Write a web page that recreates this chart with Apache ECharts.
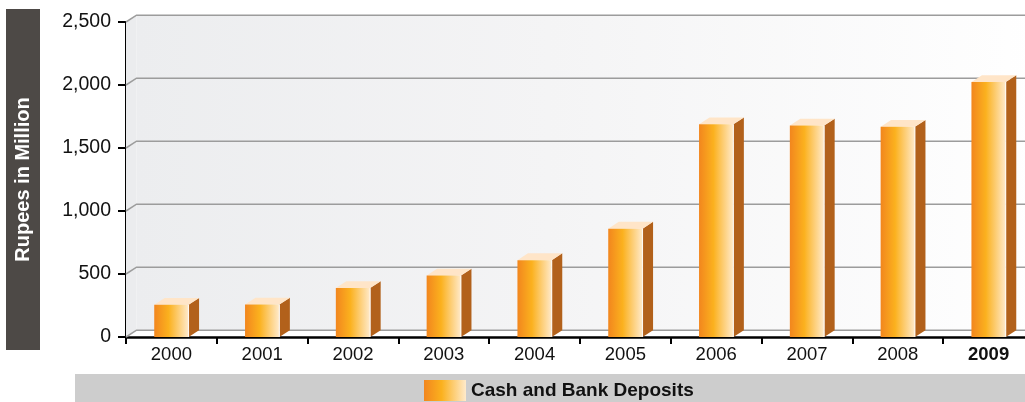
<!DOCTYPE html>
<html>
<head>
<meta charset="utf-8">
<script src="https://cdn.jsdelivr.net/npm/echarts@6/dist/echarts.min.js"></script>
<style>
  html, body { margin: 0; padding: 0; background: #ffffff; }
  #chart { width: 1025px; height: 402px; }
</style>
</head>
<body>
<div id="chart"></div>
<script>
// Cash and bank deposits per year, Rupees in Million
const years = ['2000', '2001', '2002', '2003', '2004', '2005', '2006', '2007', '2008', '2009'];
const cashDeposits = [255, 257, 388, 488, 610, 860, 1688, 1678, 1668, 2024];
const yTicks = [0, 500, 1000, 1500, 2000, 2500];
const seriesName = 'Cash and Bank Deposits';
const yTitle = 'Rupees in Million';

// depth offset of the pseudo-3D box (pixels)
const DX = 10.5;
const DY = -6.8;
const FONT = 'Liberation Sans, Arial, Helvetica, sans-serif';

const frontGradient = new echarts.graphic.LinearGradient(0, 0, 1, 0, [
  { offset: 0, color: '#F2861E' },
  { offset: 0.42, color: '#FBB11E' },
  { offset: 1, color: '#FFEACB' }
]);

const chart = echarts.init(document.getElementById('chart'), null, { renderer: 'canvas' });

const yMax = yTicks[yTicks.length - 1];

chart.setOption({
  animation: false,
  backgroundColor: '#ffffff',
  // the plot runs a little past the right edge of the page
  grid: { left: 126, width: 908, top: 22, bottom: 65, containLabel: false, outerBoundsMode: 'none' },
  legend: {
    data: [seriesName],
    left: 424,
    top: 380,
    padding: 0,
    itemWidth: 42,
    itemHeight: 21,
    icon: 'rect',
    selectedMode: false,
    textStyle: { fontFamily: FONT, fontSize: 19, fontWeight: 'bold', color: '#111111' }
  },
  xAxis: {
    type: 'category',
    data: years,
    boundaryGap: true,
    axisLine: { show: true, lineStyle: { color: '#000000', width: 2.5 } },
    axisTick: { show: true, length: 7, lineStyle: { color: '#000000', width: 2 } },
    axisLabel: {
      margin: 8,
      fontFamily: FONT,
      fontSize: 18.5,
      color: '#111111',
      formatter: function (v) {
        return v === years[years.length - 1] ? '{b|' + v + '}' : v;
      },
      rich: { b: { fontFamily: FONT, fontSize: 18.5, fontWeight: 'bold', color: '#111111' } }
    },
    splitLine: { show: false }
  },
  yAxis: {
    type: 'value',
    min: 0,
    max: yMax,
    interval: 500,
    axisLine: { show: true, lineStyle: { color: '#000000', width: 2 } },
    axisTick: { show: true, length: 8, lineStyle: { color: '#000000', width: 2 } },
    axisLabel: {
      margin: 15,
      fontFamily: FONT,
      fontSize: 19.5,
      color: '#111111',
      formatter: function (v) { return v.toLocaleString('en-US'); }
    },
    splitLine: { show: false }
  },
  graphic: [
    {
      type: 'rect',
      left: 75, top: 374,
      shape: { width: 960, height: 30 },
      style: { fill: '#CDCDCD' },
      z: -1
    },
    {
      type: 'rect',
      left: 6, top: 9,
      shape: { width: 34, height: 341 },
      style: { fill: '#4D4946' },
      z: 0
    },
    {
      type: 'text',
      x: 23, y: 179.5,
      rotation: Math.PI / 2,
      style: {
        text: yTitle,
        fill: '#ffffff',
        font: 'bold 20px ' + FONT,
        align: 'center',
        verticalAlign: 'middle'
      },
      z: 1
    }
  ],
  series: [
    {
      // back and side walls
      type: 'custom',
      name: 'walls',
      z: 1,
      silent: true,
      data: [[0, yMax]],
      renderItem: function (params, api) {
        const cs = params.coordSys;
        const top = api.coord([0, api.value(1)])[1];
        const bot = api.coord([0, 0])[1];
        const x0 = cs.x;
        const x1 = cs.x + cs.width + 20;
        return {
          type: 'group',
          children: [
            {
              type: 'polygon',
              shape: { points: [[x0, top], [x0 + DX, top + DY], [x0 + DX, bot + DY], [x0, bot]] },
              style: { fill: '#EBECEE' }
            },
            {
              type: 'rect',
              shape: { x: x0 + DX, y: top + DY, width: x1 - x0 - DX, height: bot - top },
              style: {
                fill: new echarts.graphic.LinearGradient(0, 0, 1, 0, [
                  { offset: 0, color: '#ECEDEF' },
                  { offset: 0.45, color: '#F4F4F5' },
                  { offset: 1, color: '#FFFFFF' }
                ])
              }
            }
          ]
        };
      }
    },
    {
      // gridlines on the back wall with their diagonal joins to the axis
      type: 'custom',
      name: 'gridlines',
      z: 2,
      silent: true,
      data: yTicks.map(function (v) { return [0, v]; }),
      renderItem: function (params, api) {
        const cs = params.coordSys;
        const y = api.coord([0, api.value(1)])[1];
        const x0 = cs.x;
        const x1 = cs.x + cs.width + 20;
        return {
          type: 'polyline',
          shape: { points: [[x0, y], [x0 + DX, y + DY], [x1, y + DY]] },
          style: { stroke: '#9C9C9C', lineWidth: 1.5, fill: null }
        };
      }
    },
    {
      type: 'custom',
      name: seriesName,
      z: 3,
      itemStyle: { color: frontGradient },
      data: cashDeposits.map(function (v, i) { return [i, v]; }),
      renderItem: function (params, api) {
        const idx = api.value(0);
        const topPt = api.coord([idx, api.value(1)]);
        const basePt = api.coord([idx, 0]);
        const w = api.size([1, 0])[0] * 0.378;
        const x = topPt[0] - w / 2;
        const top = topPt[1];
        const base = basePt[1];
        return {
          type: 'group',
          children: [
            {
              type: 'polygon',
              shape: { points: [[x + w, top], [x + w + DX, top + DY], [x + w + DX, base + DY], [x + w, base]] },
              style: { fill: '#B2611B' }
            },
            {
              type: 'polygon',
              shape: { points: [[x, top], [x + DX, top + DY], [x + w + DX, top + DY], [x + w, top]] },
              style: { fill: '#FFE5C8' }
            },
            {
              type: 'rect',
              shape: { x: x, y: top, width: w, height: base - top },
              style: { fill: frontGradient }
            },
            {
              type: 'line',
              shape: { x1: x + w, y1: top, x2: x + w, y2: base },
              style: { stroke: 'rgba(255,255,255,0.9)', lineWidth: 1 }
            }
          ]
        };
      }
    }
  ]
});
</script>
</body>
</html>
